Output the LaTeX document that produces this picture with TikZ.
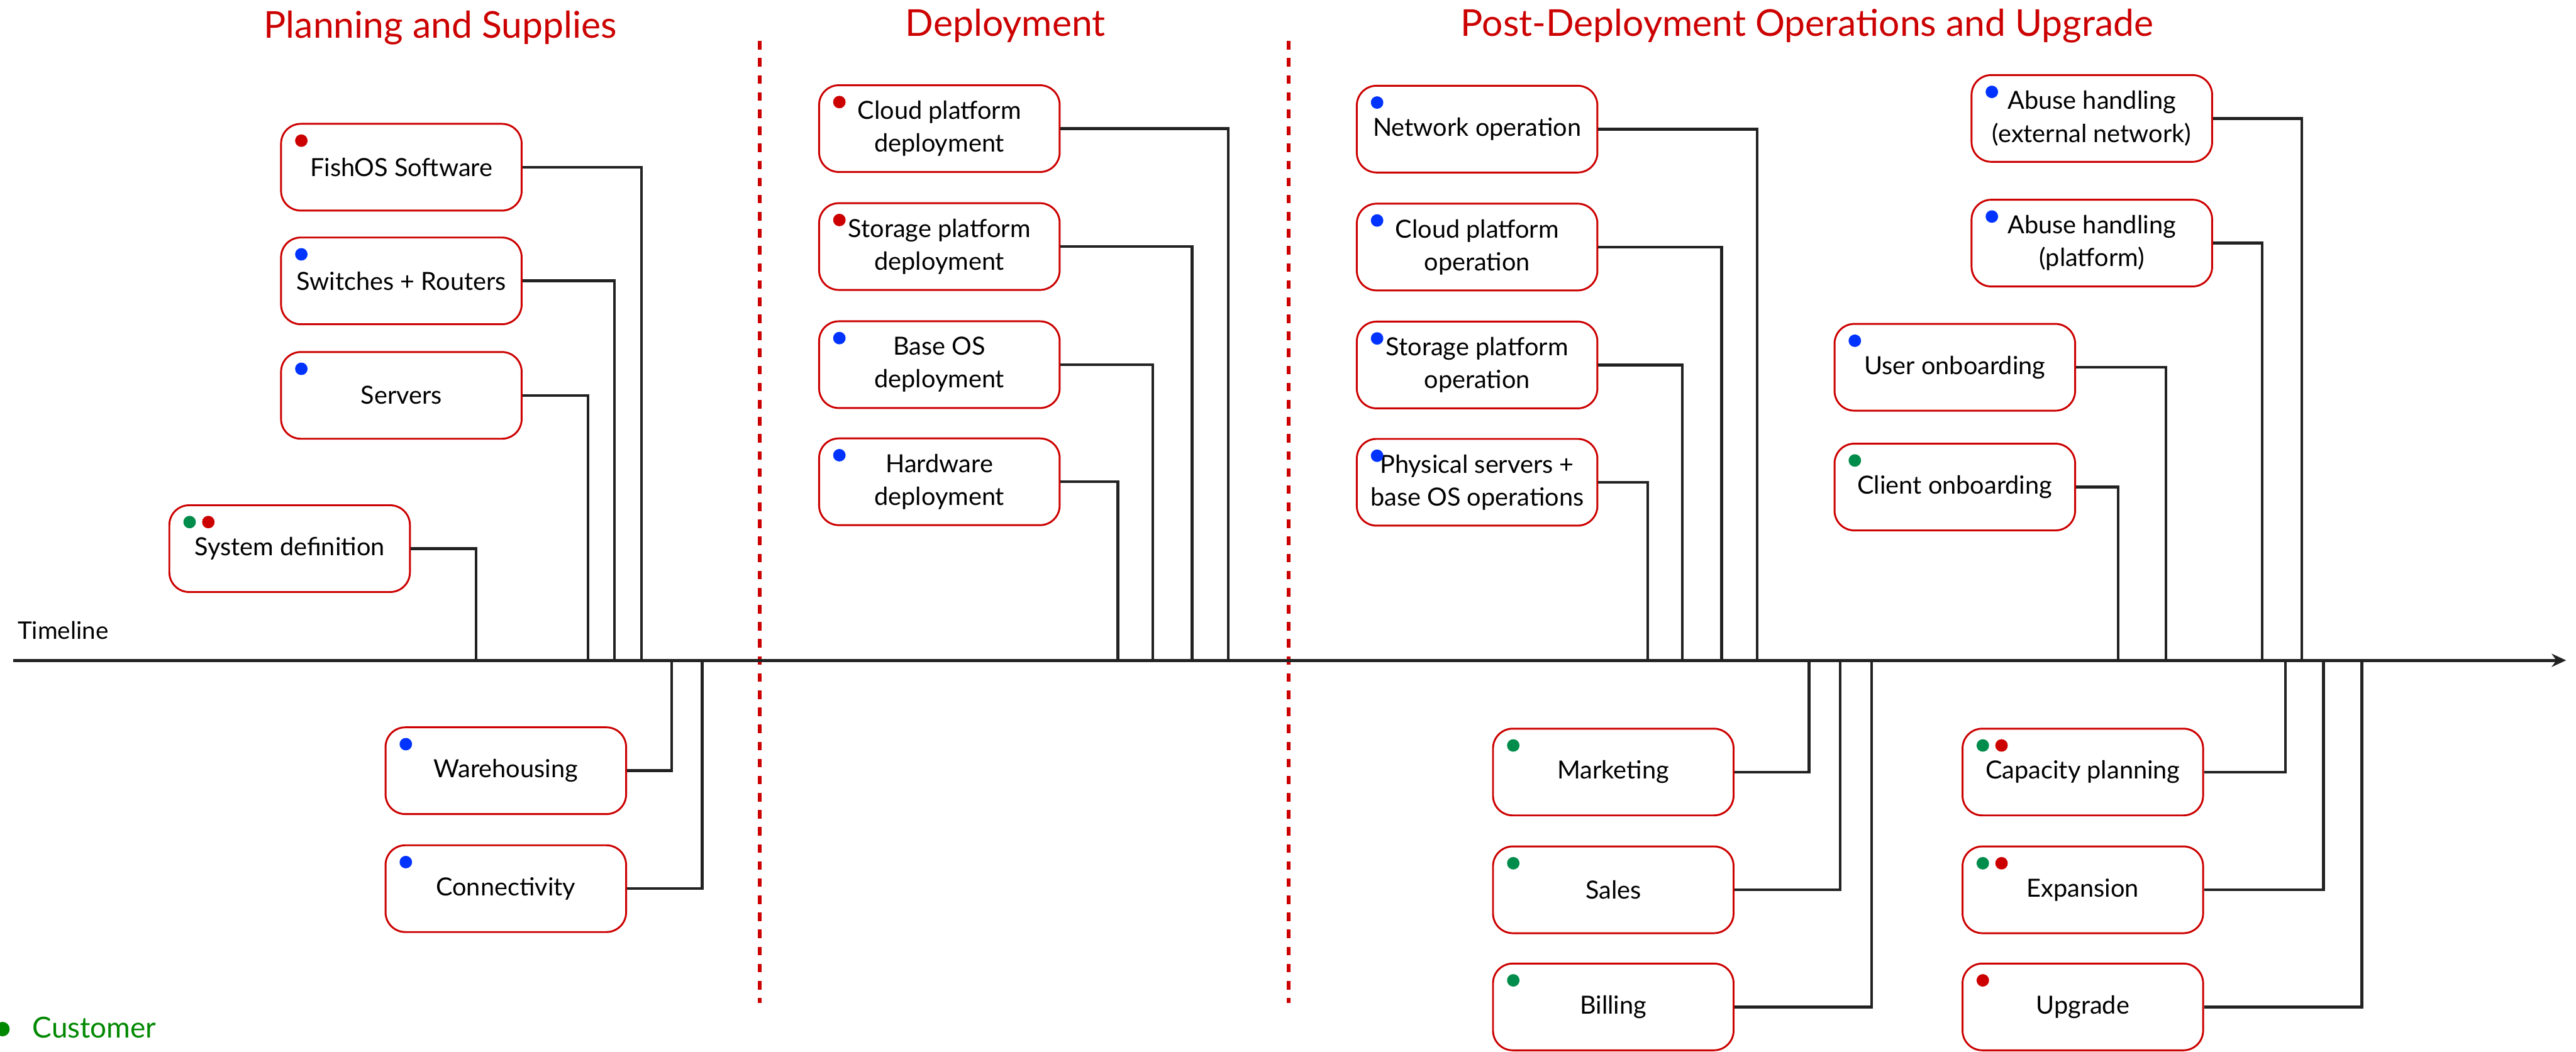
\documentclass[tikz,border=0pt]{standalone}
\usepackage{fontspec}
\setmainfont{Lato}
\usetikzlibrary{arrows.meta}
\definecolor{boxred}{RGB}{204,0,0}
\definecolor{dotred}{RGB}{204,0,0}
\definecolor{dotblue}{RGB}{0,51,255}
\definecolor{dotgreen}{RGB}{0,140,75}
\definecolor{leggreen}{RGB}{0,136,0}
\definecolor{linegray}{RGB}{34,34,34}
\newcommand\statusdot[3]{\fill[#3] ([shift={(#2,10.8)}]#1.north west) circle (0.095cm);}
\begin{document}
\begin{tikzpicture}[x=0.025cm,y=-0.025cm,
  box/.style={draw=boxred, line width=0.8pt, rounded corners=0.3cm, fill=white,
    minimum width=3.66cm, minimum height=1.32cm, align=center, inner sep=0pt,
    font=\fontsize{10.8}{14.2}\selectfont},
  link/.style={draw=linegray, line width=1.2pt},
  sectiontitle/.style={text=boxred, anchor=base, font=\fontsize{16}{19}\selectfont, inner sep=0pt},
  divider/.style={draw=boxred, line width=1.7pt, dash pattern=on 0.13cm off 0.13cm},
  timeline/.style={draw=linegray, line width=1.3pt, -{Stealth[length=0.22cm,width=0.2cm]}}]
\useasboundingbox (0,0) rectangle (1568,640.3);

% section titles
\node[sectiontitle] (tplan) at (268,23) {Planning and Supplies};
\node[sectiontitle] (tdep) at (612,22) {Deployment};
\node[sectiontitle] (tpost) at (1100,22) {Post-Deployment Operations and Upgrade};

% dividers
\coordinate (d1a) at (462.5,25); \coordinate (d1b) at (462.5,610.5);
\coordinate (d2a) at (784.5,25); \coordinate (d2b) at (784.5,610.5);
\draw[divider] (d1a) -- (d1b);
\draw[divider] (d2a) -- (d2b);

% timeline
\coordinate (tlstart) at (8,402);
\coordinate (tlend) at (1562,402);
\draw[timeline] (tlstart) -- (tlend);
\node[anchor=base west, inner sep=0pt, font=\fontsize{10.5}{12}\selectfont] (tllabel) at (10.5,389) {Timeline};

% ---------- Planning and Supplies ----------
\node[box] (fish) at (244.3,101.8) {FishOS Software};
\node[box] (switches) at (244.3,171.0) {Switches + Routers};
\node[box] (servers) at (244.3,240.7) {Servers};
\node[box] (sysdef) at (176.3,334.0) {System definition};
\node[box] (wareh) at (307.9,469.2) {Warehousing};
\node[box] (conn) at (307.9,541.0) {Connectivity};

% ---------- Deployment ----------
\node[box] (cpd) at (571.8,78.3) {Cloud platform\\deployment};
\node[box] (spd) at (571.8,150.1) {Storage platform\\deployment};
\node[box] (bosd) at (571.8,222.0) {Base OS\\deployment};
\node[box] (hwd) at (571.8,293.3) {Hardware\\deployment};

% ---------- Post-Deployment ----------
\node[box] (netop) at (899.1,78.6) {Network operation};
\node[box] (cpo) at (899.1,150.4) {Cloud platform\\operation};
\node[box] (spo) at (899.1,222.2) {Storage platform\\operation};
\node[box] (pso) at (899.1,293.6) {Physical servers +\\base OS operations};
\node[box] (abext) at (1273.3,72.1) {Abuse handling\\(external network)};
\node[box] (abplat) at (1273.3,148.0) {Abuse handling\\(platform)};
\node[box] (useron) at (1189.9,223.6) {User onboarding};
\node[box] (clienton) at (1189.9,296.5) {Client onboarding};
\node[box] (mkt) at (982.0,470.0) {Marketing};
\node[box] (sales) at (982.0,541.7) {Sales};
\node[box] (billing) at (982.0,613.0) {Billing};
\node[box] (cap) at (1267.8,470.0) {Capacity planning};
\node[box] (expan) at (1267.8,541.7) {Expansion};
\node[box] (upg) at (1267.8,613.0) {Upgrade};

% status dots
\statusdot{fish}{12.9}{dotred}
\statusdot{switches}{12.9}{dotblue}
\statusdot{servers}{12.9}{dotblue}
\statusdot{sysdef}{12.9}{dotgreen}
\statusdot{sysdef}{24.3}{dotred}
\statusdot{wareh}{12.9}{dotblue}
\statusdot{conn}{12.9}{dotblue}
\statusdot{cpd}{12.9}{dotred}
\statusdot{spd}{12.9}{dotred}
\statusdot{bosd}{12.9}{dotblue}
\statusdot{hwd}{12.9}{dotblue}
\statusdot{netop}{12.9}{dotblue}
\statusdot{cpo}{12.9}{dotblue}
\statusdot{spo}{12.9}{dotblue}
\statusdot{pso}{12.9}{dotblue}
\statusdot{abext}{12.9}{dotblue}
\statusdot{abplat}{12.9}{dotblue}
\statusdot{useron}{12.9}{dotblue}
\statusdot{clienton}{12.9}{dotgreen}
\statusdot{mkt}{12.9}{dotgreen}
\statusdot{sales}{12.9}{dotgreen}
\statusdot{billing}{12.9}{dotgreen}
\statusdot{cap}{12.9}{dotgreen}
\statusdot{cap}{24.3}{dotred}
\statusdot{expan}{12.9}{dotgreen}
\statusdot{expan}{24.3}{dotred}
\statusdot{upg}{12.9}{dotred}

% timeline attachment points
\coordinate (tfish) at (390.5,402);
\coordinate (tswitches) at (374,402);
\coordinate (tservers) at (358,402);
\coordinate (tsysdef) at (289.7,402);
\coordinate (twareh) at (408.8,402);
\coordinate (tconn) at (427.4,402);
\coordinate (tcpd) at (747.6,402);
\coordinate (tspd) at (725.6,402);
\coordinate (tbosd) at (701.6,402);
\coordinate (thwd) at (680.5,402);
\coordinate (tnetop) at (1069.6,402);
\coordinate (tcpo) at (1048,402);
\coordinate (tspo) at (1024,402);
\coordinate (tpso) at (1003,402);
\coordinate (tabext) at (1401,402);
\coordinate (tabplat) at (1377,402);
\coordinate (tuseron) at (1318.5,402);
\coordinate (tclienton) at (1289.3,402);
\coordinate (tmkt) at (1101.1,402);
\coordinate (tsales) at (1120.2,402);
\coordinate (tbilling) at (1139.2,402);
\coordinate (tcap) at (1391.2,402);
\coordinate (texpan) at (1414.3,402);
\coordinate (tupg) at (1437.6,402);

% connectors
\foreach \n in {fish,switches,servers,sysdef,wareh,conn,cpd,spd,bosd,hwd,netop,cpo,spo,pso,abext,abplat,useron,clienton,mkt,sales,billing,cap,expan,upg}
  \draw[link] (\n.east) -| (t\n);

% legend
\coordinate (legdot) at (1.5,626.5);
\fill[leggreen] (legdot) circle (0.11cm);
\node[anchor=base west, inner sep=0pt, text=leggreen, font=\fontsize{12.5}{15}\selectfont] (legend) at (19.5,632) {Customer};
\end{tikzpicture}
\end{document}
